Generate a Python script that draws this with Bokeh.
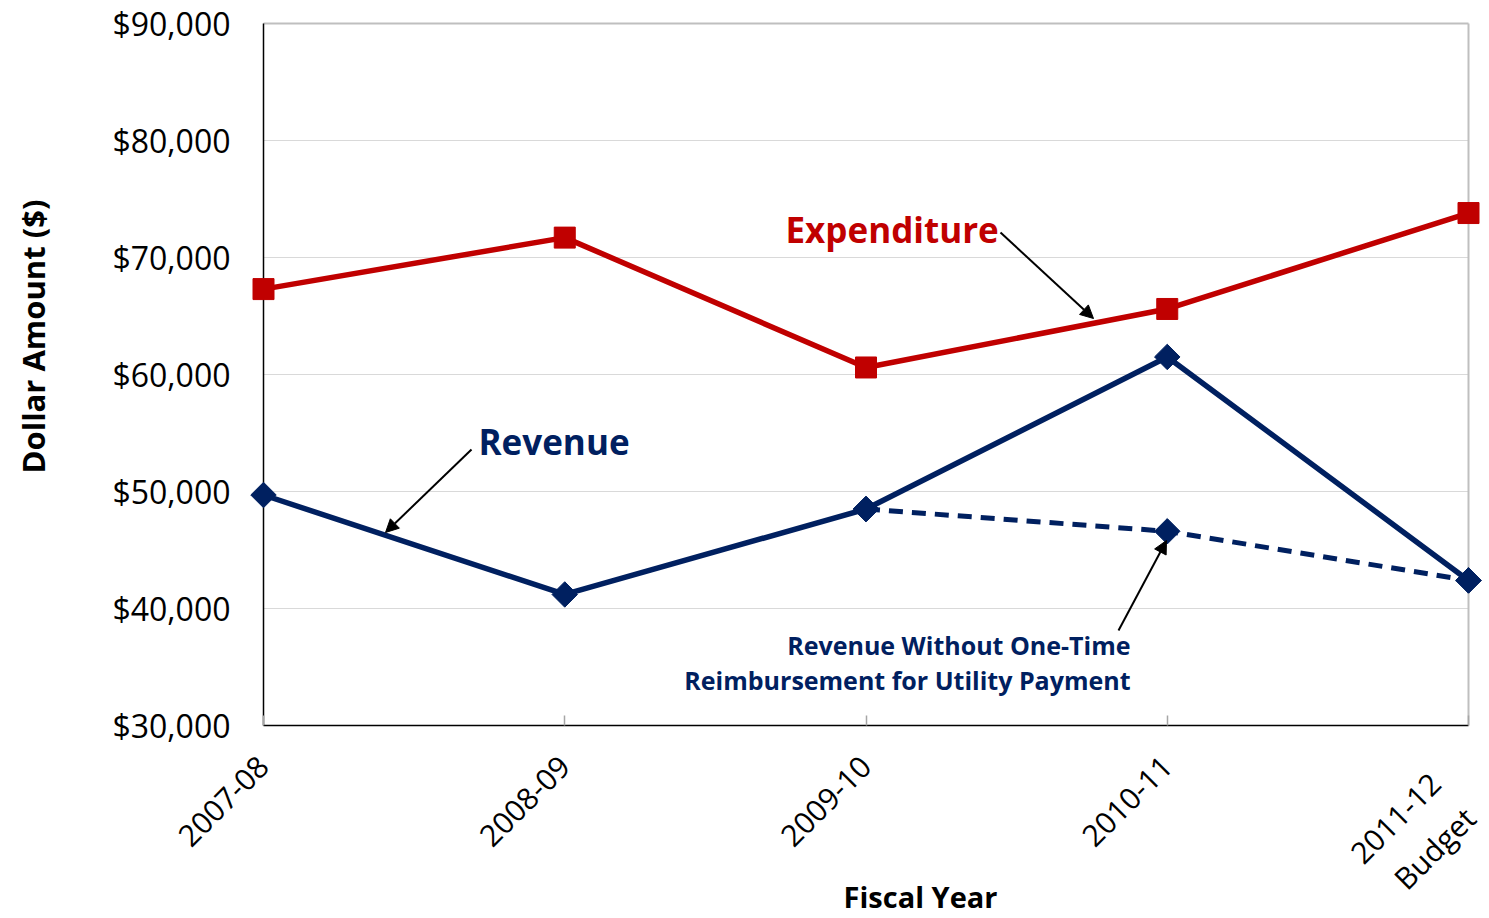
import math
from bokeh.plotting import figure
from bokeh.models import (Range1d, FixedTicker, NumeralTickFormatter, Label, Arrow, NormalHead,
                          LinearAxis)
from bokeh.embed import file_html
from bokeh.resources import INLINE

# ---- data ----
years = ["2007-08", "2008-09", "2009-10", "2010-11", "2011-12\nBudget"]
expenditure = [67300, 71700, 60600, 65600, 73800]
revenue = [49700, 41200, 48500, 61500, 42400]
rev_no_onetime_idx = [2, 3, 4]
rev_no_onetime = [48500, 46600, 42400]
y_ticks = [30000, 40000, 50000, 60000, 70000, 80000, 90000]

RED = "#C00000"
NAVY = "#002060"
FONT = "Open Sans"

# pixel -> data helpers (for range / annotation placement only)
def dx(px):
    return (px - 263) / 301.25

def dy(py):
    return 30000 + (725 - py) / 702 * 60000

xs = list(range(len(years)))
x_first, x_last = xs[0], xs[-1]
y_lo, y_hi = y_ticks[0], y_ticks[-1]

W, H = 1489, 918
p = figure(width=W, height=H, output_backend="svg", toolbar_location=None,
           x_range=Range1d(dx(0), dx(W)), y_range=Range1d(dy(H), dy(0)),
           min_border=0, min_border_left=0, min_border_right=0,
           min_border_top=0, min_border_bottom=0)
p.outline_line_color = None
p.background_fill_color = "white"
p.border_fill_color = "white"
p.xgrid.visible = False
p.ygrid.visible = False

# gridlines and plot-area border
grid_y = y_ticks[1:-1]
p.segment(x0=[x_first] * len(grid_y), x1=[x_last] * len(grid_y), y0=grid_y, y1=grid_y,
          line_color="#d9d9d9", line_width=1.2)
p.segment(x0=[x_first, x_last], x1=[x_last, x_last], y0=[y_hi, y_lo], y1=[y_hi, y_hi],
          line_color="#bfbfbf", line_width=2)
p.segment(x0=[x_first, x_first], x1=[x_first, x_last], y0=[y_lo, y_lo], y1=[y_hi, y_lo],
          line_color="black", line_width=1.5)

# series
p.line(rev_no_onetime_idx, rev_no_onetime, line_color=NAVY, line_width=5, line_dash="14 9")
p.line(xs, revenue, line_color=NAVY, line_width=5.5)
p.line(xs, expenditure, line_color=RED, line_width=5.5)
p.scatter(rev_no_onetime_idx, rev_no_onetime, marker="square", angle=math.pi / 4, size=18,
          fill_color=NAVY, line_color=NAVY)
p.scatter(xs, revenue, marker="square", angle=math.pi / 4, size=18, fill_color=NAVY, line_color=NAVY)
p.scatter(xs, expenditure, marker="square", size=21, fill_color=RED, line_color=RED)

# axes, pinned to the plot-area edges
def style_x(ax, standoff):
    ax.fixed_location = y_lo
    ax.major_label_orientation = math.pi / 4
    ax.major_label_text_font = FONT
    ax.major_label_text_font_size = "30px"
    ax.major_label_text_color = "black"
    ax.axis_line_color = None
    ax.minor_tick_line_color = None
    ax.major_label_standoff = standoff

xa = p.xaxis[0]
style_x(xa, 36)
xa.ticker = FixedTicker(ticks=xs)
xa.major_label_overrides = {i: (y if i != x_last else "") for i, y in enumerate(years)}
xa.major_tick_line_color = "#a6a6a6"
xa.major_tick_line_width = 1.5
xa.major_tick_in = 10
xa.major_tick_out = 0

# the two-line last label gets its own (tick-less) axis so it can sit a little lower/right
shift = 16 / 301.25
p.extra_x_ranges = {"last_label": Range1d(dx(0) + shift, dx(W) + shift)}
xb = LinearAxis(x_range_name="last_label")
style_x(xb, 64)
xb.ticker = FixedTicker(ticks=[x_last])
xb.major_label_overrides = {x_last: years[-1]}
xb.major_tick_line_color = None
p.add_layout(xb, "below")

ya = p.yaxis[0]
ya.fixed_location = x_first
ya.ticker = FixedTicker(ticks=y_ticks)
ya.formatter = NumeralTickFormatter(format="$0,0")
ya.major_label_text_font = FONT
ya.major_label_text_font_size = "32px"
ya.major_label_text_color = "black"
ya.axis_line_color = None
ya.major_tick_line_color = None
ya.minor_tick_line_color = None
ya.major_label_standoff = 27

# axis titles
p.add_layout(Label(x=dx(32), y=dy(336), text="Dollar Amount ($)", angle=math.pi / 2,
                   text_align="center", text_baseline="middle", text_font=FONT,
                   text_font_style="bold", text_font_size="31px", text_color="black"))
p.add_layout(Label(x=dx(920), y=dy(896), text="Fiscal Year",
                   text_align="center", text_baseline="middle", text_font=FONT,
                   text_font_style="bold", text_font_size="29px", text_color="black"))

# annotations
p.add_layout(Label(x=dx(785), y=dy(229), text="Expenditure", text_align="left",
                   text_baseline="middle", text_font=FONT, text_font_style="bold",
                   text_font_size="35px", text_color=RED))
p.add_layout(Label(x=dx(478), y=dy(441), text="Revenue", text_align="left",
                   text_baseline="middle", text_font=FONT, text_font_style="bold",
                   text_font_size="35px", text_color=NAVY))
p.add_layout(Label(x=dx(1130), y=dy(644), text="Revenue Without One-Time", text_align="right",
                   text_baseline="middle", text_font=FONT, text_font_style="bold",
                   text_font_size="25px", text_color=NAVY))
p.add_layout(Label(x=dx(1130), y=dy(679), text="Reimbursement for Utility Payment", text_align="right",
                   text_baseline="middle", text_font=FONT, text_font_style="bold",
                   text_font_size="25px", text_color=NAVY))

def arrow(x0, y0, x1, y1):
    p.add_layout(Arrow(end=NormalHead(size=13, fill_color="black", line_color="black"),
                       x_start=dx(x0), y_start=dy(y0), x_end=dx(x1), y_end=dy(y1),
                       line_color="black", line_width=2))

arrow(1000, 232, 1093, 318)
arrow(471, 449, 385, 532)
arrow(1118, 630, 1166, 540)

open("out.html", "w").write(file_html(p, INLINE))
